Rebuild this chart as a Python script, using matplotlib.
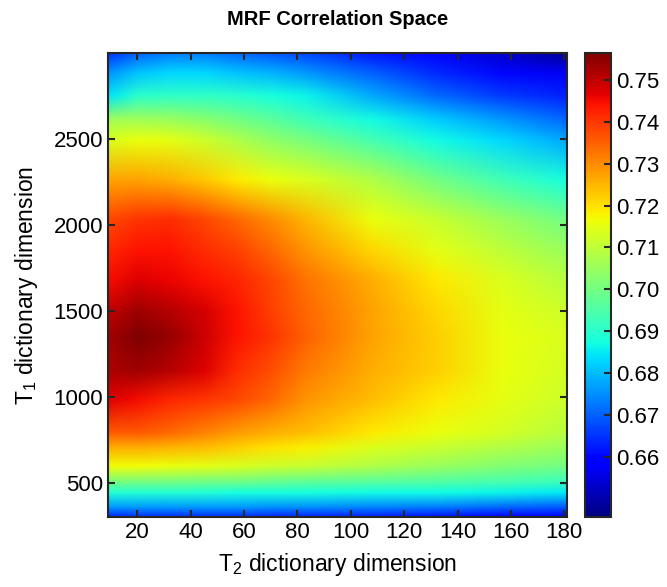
import numpy as np
import matplotlib
matplotlib.use("Agg")
import matplotlib.pyplot as plt
from matplotlib.image import NonUniformImage
from matplotlib.colors import Normalize

plt.rcParams['font.family'] = ['Liberation Sans', 'DejaVu Sans']
plt.rcParams['mathtext.fontset'] = 'custom'
plt.rcParams['mathtext.rm'] = 'Liberation Sans'
plt.rcParams['mathtext.it'] = 'Liberation Sans:italic'

# T2 and T1 dictionary dimensions (grid)
t2_dim = [10, 20, 32, 45, 57, 70, 83, 108, 132, 157, 180]
t1_dim = [300, 360, 440, 500, 595, 700, 790, 982, 1150, 1350, 1500,
          1680, 1850, 2030, 2260, 2490, 2610, 2750, 2880, 3000]

# correlation values, one row per T1 value (bottom to top)
corr = [
    [0.664, 0.665, 0.665, 0.665, 0.665, 0.664, 0.664, 0.663, 0.662, 0.660, 0.658],  # 300
    [0.677, 0.677, 0.677, 0.677, 0.677, 0.676, 0.676, 0.675, 0.674, 0.672, 0.670],  # 360
    [0.689, 0.689, 0.689, 0.689, 0.688, 0.688, 0.688, 0.687, 0.687, 0.686, 0.685],  # 440
    [0.700, 0.700, 0.700, 0.699, 0.699, 0.698, 0.697, 0.696, 0.695, 0.694, 0.692],  # 500
    [0.717, 0.717, 0.716, 0.715, 0.714, 0.712, 0.711, 0.708, 0.705, 0.702, 0.700],  # 595
    [0.726, 0.726, 0.725, 0.724, 0.722, 0.720, 0.718, 0.714, 0.711, 0.708, 0.705],  # 700
    [0.736, 0.736, 0.734, 0.731, 0.728, 0.726, 0.724, 0.719, 0.716, 0.713, 0.709],  # 790
    [0.747, 0.745, 0.742, 0.740, 0.738, 0.734, 0.729, 0.724, 0.719, 0.715, 0.712],  # 982
    [0.752, 0.753, 0.751, 0.747, 0.741, 0.737, 0.732, 0.726, 0.722, 0.716, 0.713],  # 1150
    [0.753, 0.756, 0.754, 0.749, 0.744, 0.740, 0.735, 0.727, 0.722, 0.716, 0.714],  # 1350
    [0.750, 0.753, 0.751, 0.748, 0.744, 0.739, 0.734, 0.727, 0.721, 0.715, 0.712],  # 1500
    [0.745, 0.747, 0.746, 0.744, 0.742, 0.738, 0.733, 0.726, 0.719, 0.714, 0.709],  # 1680
    [0.742, 0.744, 0.744, 0.741, 0.739, 0.734, 0.729, 0.721, 0.715, 0.710, 0.705],  # 1850
    [0.738, 0.740, 0.741, 0.738, 0.734, 0.730, 0.725, 0.716, 0.711, 0.705, 0.700],  # 2030
    [0.727, 0.727, 0.726, 0.723, 0.719, 0.716, 0.714, 0.708, 0.700, 0.693, 0.688],  # 2260
    [0.714, 0.716, 0.715, 0.712, 0.708, 0.704, 0.701, 0.694, 0.687, 0.683, 0.678],  # 2490
    [0.706, 0.706, 0.705, 0.703, 0.700, 0.697, 0.693, 0.687, 0.682, 0.676, 0.671],  # 2610
    [0.685, 0.690, 0.691, 0.691, 0.690, 0.688, 0.686, 0.678, 0.671, 0.666, 0.663],  # 2750
    [0.676, 0.681, 0.683, 0.683, 0.681, 0.679, 0.676, 0.670, 0.664, 0.660, 0.657],  # 2880
    [0.665, 0.670, 0.673, 0.673, 0.671, 0.669, 0.667, 0.662, 0.658, 0.653, 0.648],  # 3000
]

x_ticks = [20, 40, 60, 80, 100, 120, 140, 160, 180]
y_ticks = [500, 1000, 1500, 2000, 2500]
cbar_ticks = [0.66, 0.67, 0.68, 0.69, 0.70, 0.71, 0.72, 0.73, 0.74, 0.75]

fig = plt.figure(figsize=(6.67, 5.87), dpi=100)
ax = fig.add_axes([0.162, 0.119, 0.688, 0.791])
cax = fig.add_axes([0.877, 0.119, 0.039, 0.791])

im = NonUniformImage(ax, interpolation='bilinear', cmap='jet',
                     norm=Normalize(vmin=0.6457, vmax=0.7564),
                     extent=(9, 181, 300, 3000))
im.set_data(t2_dim, t1_dim, np.array(corr))
ax.add_image(im)

ax.set_xlim(9, 181)
ax.set_ylim(300, 3000)
ax.set_xticks(x_ticks)
ax.set_yticks(y_ticks)
ax.tick_params(direction='in', top=True, right=True, labelsize=16,
               length=5, width=1.5, color='#262626')
for s in ax.spines.values():
    s.set_linewidth(1.5)
    s.set_color('#262626')

ax.set_title("MRF Correlation Space", fontsize=14.5, fontweight='bold', pad=20)
ax.set_xlabel("T$_2$ dictionary dimension", fontsize=16.5, labelpad=6)
ax.set_ylabel("T$_1$ dictionary dimension", fontsize=16.5, labelpad=10)

cb = fig.colorbar(im, cax=cax, ticks=cbar_ticks)
cb.ax.set_yticklabels([f"{t:.2f}" for t in cbar_ticks])
cb.ax.tick_params(direction='in', labelsize=16, length=5, width=1.5,
                  color='#262626')
cb.outline.set_linewidth(1.5)
cb.outline.set_edgecolor('#262626')

plt.savefig('out.png', dpi=100)
